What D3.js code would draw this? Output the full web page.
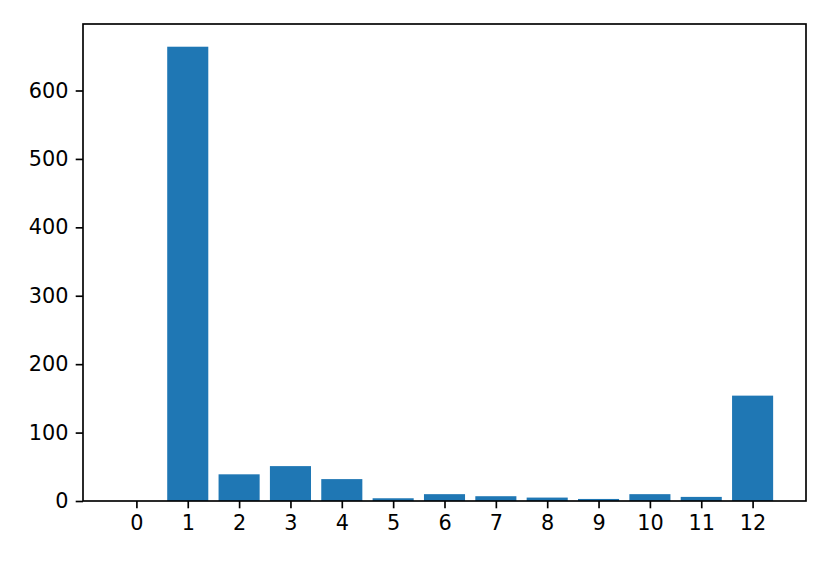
<!DOCTYPE html>
<html>
<head>
<meta charset="utf-8">
<script src="https://cdn.jsdelivr.net/npm/d3@7"></script>
<style>
  body { margin: 0; background: #fff; }
  svg text { font-family: "DejaVu Sans", sans-serif; font-size: 20.8px; fill: #000; }
  .axis path, .axis line { stroke: #000; stroke-width: 1.67px; }
</style>
</head>
<body>
<svg width="830" height="564"></svg>
<script>
var categories = [0, 1, 2, 3, 4, 5, 6, 7, 8, 9, 10, 11, 12];
var counts = [0, 664, 39, 51, 32, 4, 10, 7, 5, 3, 10, 6, 154];
var yTicks = [0, 100, 200, 300, 400, 500, 600];

var margin = { top: 24, right: 24, bottom: 63, left: 83 },
	width = 830 - margin.left - margin.right,
	height = 564 - margin.top - margin.bottom;

var barWidth = 0.8;
var lo = d3.min(categories) - barWidth / 2,
	hi = d3.max(categories) + barWidth / 2,
	pad = (hi - lo) * 0.05;

var xScale = d3.scaleLinear()
	.domain([lo - pad, hi + pad])
	.range([0, width]);

var yScale = d3.scaleLinear()
	.domain([0, d3.max(counts) * 1.05])
	.range([height, 0]);

var svg = d3.select("svg")
	.append("g").attr("transform", "translate(" + margin.left + "," + margin.top + ")");

svg.selectAll("rect.bar")
	.data(categories)
	.enter().append("rect")
		.attr("class", "bar")
		.attr("x", function (d) { return xScale(d - barWidth / 2); })
		.attr("width", function (d) { return xScale(barWidth) - xScale(0); })
		.attr("y", function (d, i) { return yScale(counts[i]); })
		.attr("height", function (d, i) { return height - yScale(counts[i]); })
		.attr("fill", "#1f77b4");

var xAxis = d3.axisBottom(xScale)
	.tickValues(categories)
	.tickFormat(d3.format("d"))
	.tickSize(7.3)
	.tickPadding(7.3)
	.tickSizeOuter(0);

var yAxis = d3.axisLeft(yScale)
	.tickValues(yTicks)
	.tickFormat(d3.format("d"))
	.tickSize(7.3)
	.tickPadding(7.3)
	.tickSizeOuter(0);

svg.append("g")
	.attr("class", "x axis")
	.attr("transform", "translate(0," + height + ")")
	.call(xAxis);

svg.append("g")
	.attr("class", "y axis")
	.call(yAxis);

svg.selectAll(".axis .domain").remove();
svg.selectAll(".axis text").attr("font-size", null).attr("font-family", null);

// frame
svg.append("rect")
	.attr("width", width)
	.attr("height", height)
	.attr("fill", "none")
	.attr("stroke", "#000")
	.attr("stroke-width", 1.67);
</script>
</body>
</html>
